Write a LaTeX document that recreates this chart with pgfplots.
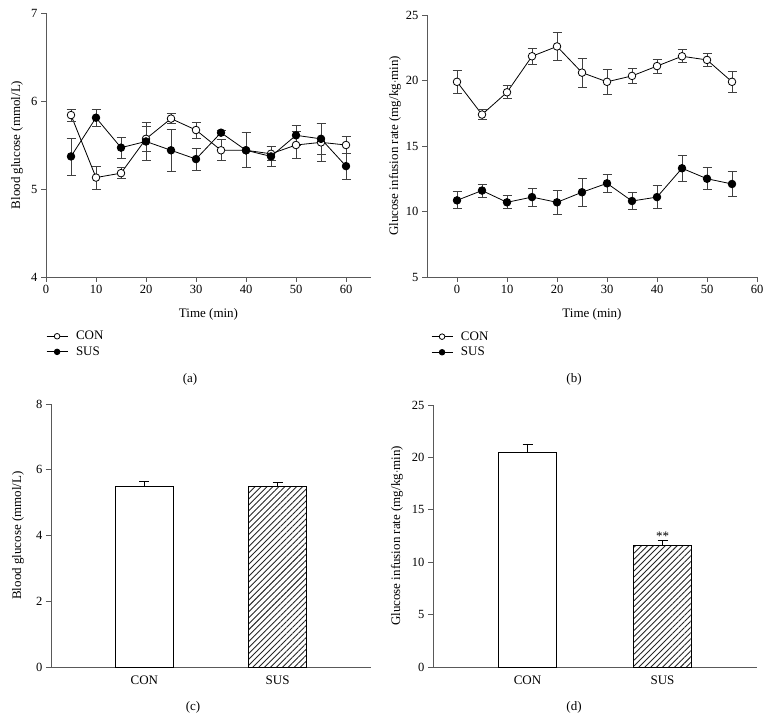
\documentclass[border=0pt]{standalone}
\usepackage{pgfplots}
\pgfplotsset{compat=1.18}
\usepackage{pgfplotstable}
\usepackage{fontspec}
\setmainfont{Liberation Serif}
\usetikzlibrary{patterns.meta}

\definecolor{axgray}{gray}{0.35}
\definecolor{errgray}{gray}{0.25}

\pgfplotstableread{
x y e
5 5.84 0.07
10 5.13 0.13
15 5.18 0.06
20 5.57 0.14
25 5.80 0.06
30 5.67 0.09
35 5.44 0.12
40 5.44 0.20
45 5.40 0.08
50 5.50 0.15
55 5.53 0.22
60 5.50 0.10
}\aCON
\pgfplotstableread{
x y e
5 5.37 0.21
10 5.81 0.10
15 5.47 0.12
20 5.54 0.22
25 5.44 0.235
30 5.34 0.125
35 5.64 0.03
40 5.44 0.20
45 5.37 0.11
50 5.61 0.11
55 5.57 0.18
60 5.26 0.15
}\aSUS
\pgfplotstableread{
x y e
0 19.9 0.9
5 17.4 0.4
10 19.1 0.5
15 21.85 0.6
20 22.6 1.1
25 20.6 1.1
30 19.9 0.95
35 20.35 0.6
40 21.1 0.53
45 21.85 0.5
50 21.57 0.5
55 19.9 0.8
}\bCON
\pgfplotstableread{
x y e
0 10.85 0.65
5 11.6 0.5
10 10.7 0.5
15 11.1 0.7
20 10.7 0.9
25 11.47 1.05
30 12.15 0.67
35 10.8 0.63
40 11.1 0.9
45 13.3 1.0
50 12.5 0.83
55 12.1 0.95
}\bSUS
\pgfplotstableread{
x y e
1 5.50 0.13
}\cCON
\pgfplotstableread{
x y e
2 5.49 0.11
}\cSUS
\pgfplotstableread{
x y e
1 20.48 0.8
}\dCON
\pgfplotstableread{
x y e
2 11.58 0.52
}\dSUS

\pgfplotsset{
  base/.style={
    scale only axis,
    axis lines*=left,
    axis line style={axgray, line width=0.8pt},
    tick style={axgray, line width=0.8pt},
    tick align=outside,
    major tick length=5pt,
    /pgf/number format/assume math mode=true,
    tick label style={font=\fontsize{12.5}{14}\selectfont},
    xlabel style={font=\fontsize{13}{15}\selectfont},
    ylabel style={font=\fontsize{13}{15}\selectfont},
    xtick pos=bottom, ytick pos=left,
    clip=false,
  },
  errs/.style={
    error bars/.cd, y dir=both, y explicit,
    error bar style={errgray, line width=0.8pt},
    error mark options={rotate=90, mark size=4.5pt, errgray, line width=0.8pt},
  },
  conline/.style={black, line width=0.8pt, mark=*, mark size=3.8pt, mark options={fill=white, draw=black, line width=0.8pt}},
  susline/.style={black, line width=0.8pt, mark=*, mark size=3.8pt, mark options={fill=black, draw=black}},
  leg/.style={
    legend style={draw=none, fill=none, font=\fontsize{13}{15}\selectfont, row sep=1.5pt, inner sep=0pt,
      nodes={inner sep=2pt},
      /tikz/every odd column/.append style={column sep=6pt}},
    legend cell align=left,
    legend image code/.code={\draw[mark repeat=2,mark phase=2,mark size=2.8pt] plot coordinates {(0pt,0pt) (10.5pt,0pt) (21pt,0pt)};},
  },
}

\begin{document}
\begin{tikzpicture}[x=1pt,y=1pt]
\useasboundingbox (0,0) rectangle (770,718);

% (a)
\begin{axis}[base, leg,
  at={(46pt,441pt)}, anchor=south west,
  width=325pt, height=264pt,
  xmin=0, xmax=65, ymin=4, ymax=7,
  xtick={0,10,...,60}, ytick={4,5,6,7},
  xlabel={Time (min)}, ylabel={Blood glucose (mmol/L)},
  xlabel style={at={(axis description cs:0.5,-0.14)}, anchor=center},
  ylabel style={at={(axis description cs:-0.089,0.5)}, anchor=center},
  legend style={at={(axis description cs:0.0,-0.197)}, anchor=north west},
]
\addplot+[conline, errs] table[x=x, y=y, y error=e] {\aCON};
\addlegendentry{CON}
\addplot+[susline, errs] table[x=x, y=y, y error=e] {\aSUS};
\addlegendentry{SUS}
\end{axis}

% (b)
\begin{axis}[base, leg,
  at={(427pt,441pt)}, anchor=south west,
  width=330pt, height=262pt,
  xmin=-6, xmax=60, ymin=5, ymax=25,
  xtick={0,10,...,60}, ytick={5,10,...,25},
  xlabel={Time (min)}, ylabel={Glucose infusion rate (mg/kg$\cdot$min)},
  xlabel style={at={(axis description cs:0.5,-0.141)}, anchor=center},
  ylabel style={at={(axis description cs:-0.097,0.5)}, anchor=center},
  legend style={at={(axis description cs:0.012,-0.2)}, anchor=north west},
]
\addplot+[conline, errs] table[x=x, y=y, y error=e] {\bCON};
\addlegendentry{CON}
\addplot+[susline, errs] table[x=x, y=y, y error=e] {\bSUS};
\addlegendentry{SUS}
\end{axis}

% (c)
\begin{axis}[base,
  at={(51pt,51pt)}, anchor=south west,
  width=320pt, height=263pt,
  xmin=0.3, xmax=2.7, ymin=0, ymax=8,
  xtick={1,2}, xticklabels={CON,SUS}, ytick={0,2,...,8},
  x tick style={draw=none},
  xticklabel style={font=\fontsize{13}{15}\selectfont},
  ylabel={Blood glucose (mmol/L)},
  ylabel style={at={(axis description cs:-0.103,0.5)}, anchor=center},
  ybar, bar width=58pt,
]
\addplot[bar shift=0pt, draw=black, line width=0.9pt, fill=white,
  error bars/.cd, y dir=plus, y explicit,
  error bar style={black, line width=0.9pt},
  error mark options={rotate=90, mark size=5pt, black, line width=0.9pt}]
  table[x=x, y=y, y error=e] {\cCON};
\addplot[bar shift=0pt, draw=black, line width=0.9pt,
  pattern={Lines[angle=45, distance=4.2pt, line width=0.9pt]}, pattern color=black!85,
  error bars/.cd, y dir=plus, y explicit,
  error bar style={black, line width=0.9pt},
  error mark options={rotate=90, mark size=5pt, black, line width=0.9pt}]
  table[x=x, y=y, y error=e] {\cSUS};
\end{axis}

% (d)
\begin{axis}[base,
  at={(433pt,51pt)}, anchor=south west,
  width=324pt, height=262pt,
  xmin=0.3, xmax=2.7, ymin=0, ymax=25,
  xtick={1,2}, xticklabels={CON,SUS}, ytick={0,5,...,25},
  x tick style={draw=none},
  xticklabel style={font=\fontsize{13}{15}\selectfont},
  ylabel={Glucose infusion rate (mg/kg$\cdot$min)},
  ylabel style={at={(axis description cs:-0.111,0.5)}, anchor=center},
  ybar, bar width=58pt,
]
\addplot[bar shift=0pt, draw=black, line width=0.9pt, fill=white,
  error bars/.cd, y dir=plus, y explicit,
  error bar style={black, line width=0.9pt},
  error mark options={rotate=90, mark size=5pt, black, line width=0.9pt}]
  table[x=x, y=y, y error=e] {\dCON};
\addplot[bar shift=0pt, draw=black, line width=0.9pt,
  pattern={Lines[angle=45, distance=4.2pt, line width=0.9pt]}, pattern color=black!85,
  error bars/.cd, y dir=plus, y explicit,
  error bar style={black, line width=0.9pt},
  error mark options={rotate=90, mark size=5pt, black, line width=0.9pt}]
  table[x=x, y=y, y error=e] {\dSUS};
\node[anchor=south, inner sep=1pt, font=\fontsize{13}{15}\selectfont] at (axis cs:2,12.0) {**};
\end{axis}

\node[font=\fontsize{13}{15}\selectfont] at (190,339) {(a)};
\node[font=\fontsize{13}{15}\selectfont] at (574,339) {(b)};
\node[font=\fontsize{13}{15}\selectfont] at (193,11) {(c)};
\node[font=\fontsize{13}{15}\selectfont] at (574,11) {(d)};
\end{tikzpicture}
\end{document}
